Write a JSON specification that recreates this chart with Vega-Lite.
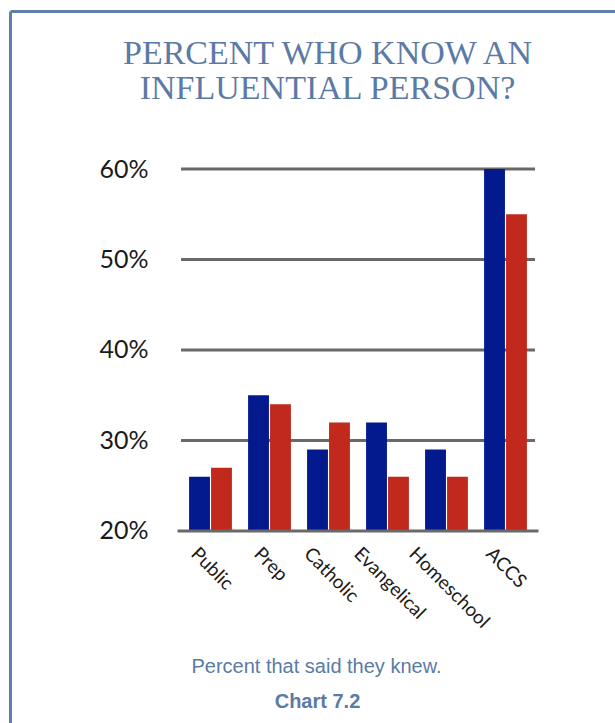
{
  "$schema": "https://vega.github.io/schema/vega-lite/v6.json",
  "width": 605,
  "height": 712,
  "autosize": {"type": "none"},
  "padding": {"left": 10, "top": 11, "right": 0, "bottom": 0},
  "background": "white",
  "config": {"view": {"stroke": null}},
  "encoding": {
    "y": {
      "field": "value",
      "type": "quantitative",
      "scale": {"domain": [-1.22, 77.46], "nice": false, "zero": false},
      "axis": {
        "orient": "left",
        "values": [20, 30, 40, 50, 60],
        "labelExpr": "datum.value + '%'",
        "grid": false,
        "ticks": false,
        "tickSize": 0,
        "domain": true,
        "domainColor": "#5f7eaa",
        "domainWidth": 3,
        "labelFont": "Lato",
        "labelFontSize": 25,
        "labelColor": "#1a1a1a",
        "labelPadding": -138,
        "labelAlign": "right",
        "labelBaseline": "middle",
        "title": "Chart 7.2",
        "titleAngle": 0,
        "titleX": 307,
        "titleY": 696,
        "titleAlign": "center",
        "titleBaseline": "alphabetic",
        "titleFont": "Liberation Sans",
        "titleFontSize": 20,
        "titleFontWeight": "bold",
        "titleColor": "#5b7aa6"
      }
    }
  },
  "layer": [
    {
      "data": {"values": [{"value": 30}, {"value": 40}, {"value": 50}, {"value": 60}]},
      "mark": {"type": "rule", "color": "#696969", "strokeWidth": 3},
      "encoding": {
        "x": {
          "datum": 0,
          "type": "quantitative",
          "scale": {"domain": [-0.4831, 1.226], "nice": false, "zero": false},
          "axis": {
            "orient": "top",
            "labels": false,
            "ticks": false,
            "grid": false,
            "domain": true,
            "domainColor": "#5f7eaa",
            "domainWidth": 3,
            "title": ["PERCENT WHO KNOW AN", "INFLUENTIAL PERSON?"],
            "titleX": 317,
            "titleY": 52,
            "titleAlign": "center",
            "titleBaseline": "alphabetic",
            "titleFont": "Liberation Serif",
            "titleFontSize": 34,
            "titleFontWeight": "normal",
            "titleLineHeight": 35,
            "titleColor": "#5b7aa6"
          }
        },
        "x2": {"datum": 1}
      }
    },
    {
      "data": {
        "values": [
          {"school": "Public", "group": "a", "value": 26},
          {"school": "Public", "group": "b", "value": 27},
          {"school": "Prep", "group": "a", "value": 35},
          {"school": "Prep", "group": "b", "value": 34},
          {"school": "Catholic", "group": "a", "value": 29},
          {"school": "Catholic", "group": "b", "value": 32},
          {"school": "Evangelical", "group": "a", "value": 32},
          {"school": "Evangelical", "group": "b", "value": 26},
          {"school": "Homeschool", "group": "a", "value": 29},
          {"school": "Homeschool", "group": "b", "value": 26},
          {"school": "ACCS", "group": "a", "value": 60},
          {"school": "ACCS", "group": "b", "value": 55}
        ]
      },
      "mark": {"type": "bar"},
      "encoding": {
        "x": {
          "field": "school",
          "type": "nominal",
          "sort": null,
          "scale": {"range": [171, 525], "paddingInner": 0.274, "paddingOuter": 0.137, "align": 0.5},
          "axis": {
            "orient": "bottom",
            "offset": -193,
            "domain": false,
            "ticks": false,
            "grid": false,
            "labelAngle": 45,
            "labelFont": "Lato",
            "labelFontSize": 19,
            "labelColor": "#1a1a1a",
            "labelPadding": 14,
            "labelOffset": {
              "condition": [
                {"test": "datum.value == 'Prep'", "value": -6},
                {"test": "datum.value == 'Catholic'", "value": -15},
                {"test": "datum.value == 'Evangelical'", "value": -24},
                {"test": "datum.value == 'Homeschool'", "value": -28}
              ],
              "value": -10
            },
            "title": "Percent that said they knew.",
            "titleX": 306,
            "titleY": 142,
            "titleAlign": "center",
            "titleBaseline": "alphabetic",
            "titleFont": "Liberation Sans",
            "titleFontSize": 20,
            "titleFontWeight": "normal",
            "titleColor": "#5b7aa6"
          }
        },
        "xOffset": {"field": "group", "type": "nominal", "scale": {"paddingInner": 0.05, "paddingOuter": 0}},
        "y2": {"datum": 20},
        "color": {
          "field": "group",
          "type": "nominal",
          "scale": {"domain": ["a", "b"], "range": ["#021a8e", "#c0291c"]},
          "legend": null
        }
      }
    },
    {
      "data": {"values": [{"value": 20}]},
      "mark": {"type": "rule", "color": "#696969", "strokeWidth": 3},
      "encoding": {
        "x": {
          "datum": -0.01,
          "type": "quantitative",
          "scale": {"domain": [-0.4831, 1.226], "nice": false, "zero": false},
          "axis": null
        },
        "x2": {"datum": 1.01}
      }
    }
  ],
  "resolve": {"scale": {"x": "independent"}}
}
